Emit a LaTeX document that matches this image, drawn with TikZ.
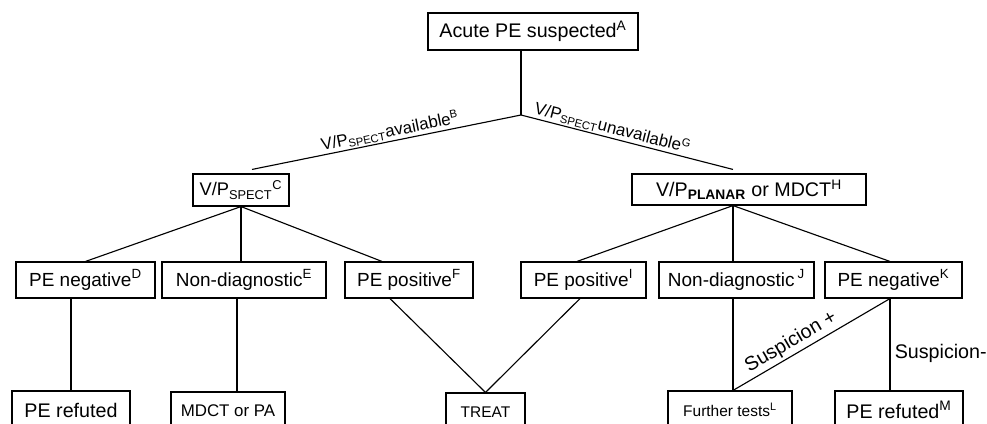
\documentclass[tikz,border=0pt]{standalone}
\usepackage{fontspec}
\setmainfont{Liberation Sans}
\usetikzlibrary{calc}
\newcommand{\fs}[1]{\fontsize{#1}{#1}\selectfont}
\tikzset{
  box/.style={draw, line width=0.8pt, inner sep=0pt},
  rowtwo/.style={box, minimum height=0.9cm, font=\fs{13.5}},
  rowthree/.style={box, minimum height=0.95cm},
  lbl/.style={font=\fs{12}, sloped, inner sep=1pt}
}
\begin{document}
\begin{tikzpicture}[x=0.025cm, y=-0.025cm, line width=0.8pt]
    \useasboundingbox (0,0) rectangle (987,423);
    \clip (0,0) rectangle (987,423);
    % top
    \node [box, minimum width=5.25cm, minimum height=0.925cm, font=\fs{14}] (top) at (533,31.5) {Acute PE suspected\textsuperscript{A}};
    \coordinate (j0) at (521,115);
    \node [box, minimum width=2.4cm, minimum height=0.8cm, font=\fs{13}] (spect) at (241,190) {V/P\textsubscript{SPECT}\textsuperscript{C}};
    \node [box, minimum width=5.85cm, minimum height=0.775cm, font=\fs{14}] (planar) at (749,189.5) {V/P\textsubscript{\textbf{PLANAR}} or MDCT\textsuperscript{H}};
    % second row
    \node [rowtwo, minimum width=3.475cm] (d) at (85.5,280) {PE negative\textsuperscript{D}};
    \node [rowtwo, minimum width=4.1cm] (e) at (244,280) {Non-diagnostic\textsuperscript{E}};
    \node [rowtwo, minimum width=3.2cm] (f) at (409,280) {PE positive\textsuperscript{F}};
    \node [rowtwo, minimum width=3.125cm] (i) at (583.5,280) {PE positive\textsuperscript{I}};
    \node [rowtwo, minimum width=3.875cm] (j) at (736.5,280) {Non-diagnostic\,\textsuperscript{J}};
    \node [rowtwo, minimum width=3.425cm] (k) at (893.5,280) {PE negative\textsuperscript{K}};
    % third row
    \node [rowthree, minimum width=2.95cm, font=\fs{14}] (r1) at (71,410) {PE refuted};
    \node [rowthree, minimum width=2.85cm, font=\fs{12}] (mdct) at (228,411) {MDCT or PA};
    \node [rowthree, minimum width=1.975cm, font=\fs{11}] (treat) at (485.5,412) {TREAT};
    \node [rowthree, minimum width=3.1cm, font=\fs{11}] (further) at (730,410) {Further tests\textsuperscript{L}};
    \node [rowthree, minimum width=3.2cm, font=\fs{14}] (r2) at (899,410) {PE refuted\textsuperscript{M}};
    % branches
    \draw (j0) -- (j0 |- top.south);
    \draw ($(spect.north)+(11,-4)$) -- (j0) node [lbl, above, pos=0.52] {V/P\textsubscript{SPECT}available\textsuperscript{B}};
    \draw (j0) -- ($(planar.north)+(-16,-4)$) node [lbl, above, pos=0.42] {V/P\textsubscript{SPECT}unavailable\textsuperscript{G}};
    \draw (spect.south) -- (d.north);
    \draw (spect.south) -- (spect.south |- e.north);
    \draw (spect.south) -- ($(f.north)+(-27,0)$);
    \coordinate (pj) at ($(planar.south)+(-16,0)$);
    \draw (pj) -- ($(i.north)+(-6.5,0)$);
    \draw (pj) -- (pj |- j.north);
    \draw (pj) -- ($(k.north)+(-3.5,0)$);
    \draw (r1.north) -- (r1.north |- d.south);
    \draw ($(mdct.north)+(9,0)$) -- ($(e.south)+(-7,0)$);
    \draw ($(f.south)+(-19,0)$) -- (treat.north);
    \draw ($(i.south)+(-3.5,0)$) -- (treat.north);
    \draw ($(further.north)+(3,0)$) -- ($(j.south)+(-3.5,0)$);
    \draw ($(further.north)+(3,0)$) -- ($(k.south)+(-3.5,0)$) node [lbl, above, pos=0.41, font=\fs{14}, inner sep=2pt] {Suspicion +};
    \draw ($(k.south)+(-3.5,0)$) -- ($(r2.north)+(-9,0)$) node [right, pos=0.6, font=\fs{14}, inner sep=3pt] {Suspicion-};
\end{tikzpicture}
\end{document}
